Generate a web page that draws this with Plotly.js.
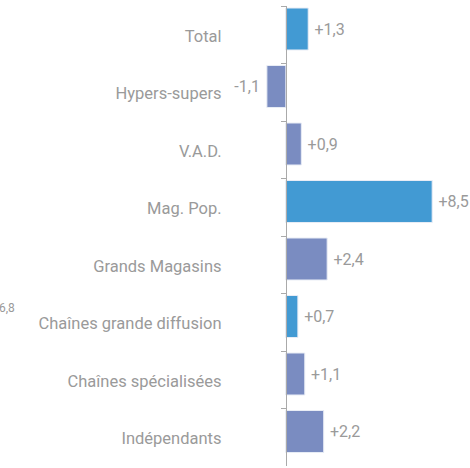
<!DOCTYPE html>
<html>
<head>
<meta charset="utf-8">
<script src="https://cdn.plot.ly/plotly-3.0.1.min.js"></script>
<style>html,body{margin:0;padding:0;background:#fff;}#chart{width:470px;height:468px;}</style>
</head>
<body>
<div id="chart"></div>
<script>
const categories = ["Total", "Hypers-supers", "V.A.D.", "Mag. Pop.", "Grands Magasins", "Chaînes grande diffusion", "Chaînes spécialisées", "Indépendants"];
const values = [1.3, -1.1, 0.9, 8.5, 2.4, 0.7, 1.1, 2.2];
const highlighted = [true, false, false, true, false, true, false, false];
const strayLabel = "6,8";

const blue = "#429AD3", purple = "#7A8CC1", gray = "#9a9a9a";
const fmt = v => v > 0 ? "\u2009+" + v.toFixed(1).replace(".", ",")
                       : v.toFixed(1).replace(".", ",") + "\u00A0";
const FONT = "Roboto, 'Liberation Sans', sans-serif";

const L = 260, W = 198;
const trace = {
  type: "bar", orientation: "h",
  y: categories, x: values,
  width: 0.73, offset: -0.465,
  marker: { color: highlighted.map(h => h ? blue : purple), line: { color: "#e8ecf5", width: 1 } },
  text: values.map(fmt), textposition: "outside", cliponaxis: false,
  textfont: { family: FONT, size: 16, color: gray },
  hoverinfo: "none"
};
const layout = {
  width: 470, height: 468,
  margin: { l: L, r: 470 - L - W, t: 6, b: 2 },
  paper_bgcolor: "#fff", plot_bgcolor: "#fff",
  showlegend: false,
  xaxis: { range: [-1.5, 10], showgrid: false, zeroline: false, showticklabels: false, showline: false, ticks: "" },
  yaxis: {
    autorange: "reversed", anchor: "free", position: 1.5 / 11.5,
    showline: true, linecolor: "#aaaaaa", linewidth: 1.5,
    ticks: "outside", tickson: "boundaries", ticklen: 5, tickcolor: "#aaaaaa",
    ticklabelstandoff: 61, ticklabelshift: -1,
    tickfont: { family: FONT, size: 16.5, color: gray },
    showgrid: false, zeroline: false
  },
  annotations: [{
    xref: "paper", yref: "paper", x: (17 - L) / W, y: 1 - (308 - 6) / 460,
    xanchor: "right", yanchor: "middle", text: strayLabel, showarrow: false,
    font: { family: FONT, size: 12, color: gray }
  }]
};
Plotly.newPlot("chart", [trace], layout, { displayModeBar: false, staticPlot: true });
</script>
</body>
</html>
